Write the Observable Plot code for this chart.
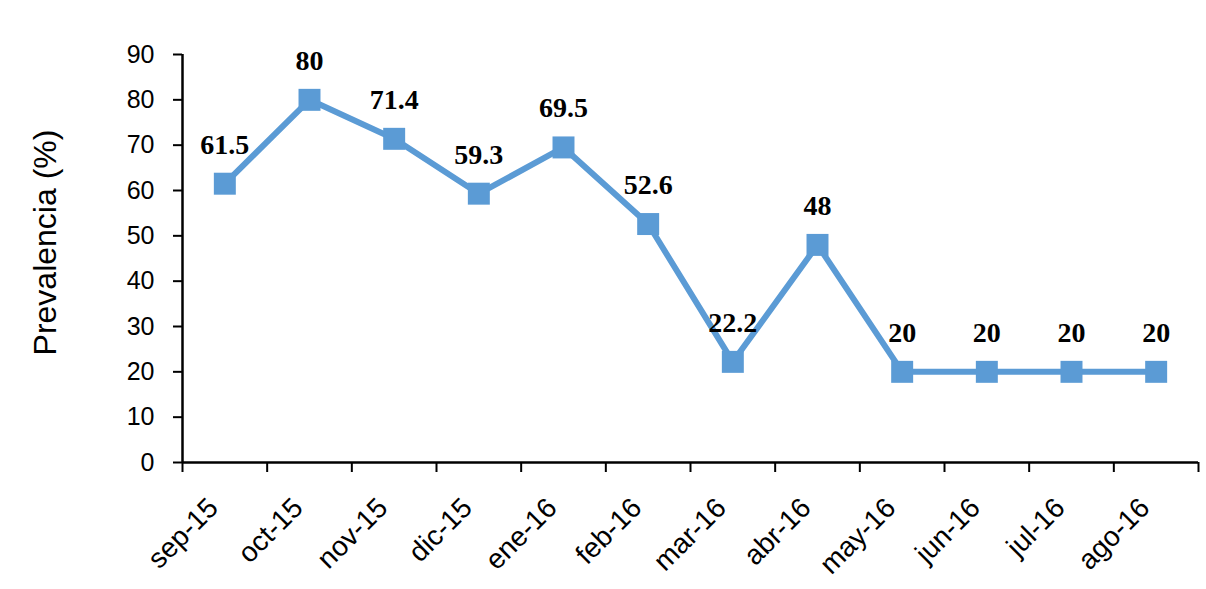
<!DOCTYPE html>
<html>
<head>
<meta charset="utf-8">
<script src="https://cdn.jsdelivr.net/npm/d3@7"></script>
<script src="https://cdn.jsdelivr.net/npm/@observablehq/plot@0.6"></script>
<style>
  html, body { margin: 0; padding: 0; background: #fff; }
  #chart svg { display: block; }
</style>
</head>
<body>
<div id="chart"></div>
<script>
const months = ["sep-15","oct-15","nov-15","dic-15","ene-16","feb-16","mar-16","abr-16","may-16","jun-16","jul-16","ago-16"];
const prevalence = [61.5, 80, 71.4, 59.3, 69.5, 52.6, 22.2, 48, 20, 20, 20, 20];
const labels = ["61.5","80","71.4","59.3","69.5","52.6","22.2","48","20","20","20","20"];
const yTicks = [0,10,20,30,40,50,60,70,80,90];
const yTitle = "Prevalencia (%)";

const data = months.map((m, i) => ({i, m, v: prevalence[i], label: labels[i]}));
const color = "#5B9BD5";

const chart = Plot.plot({
  width: 1206,
  height: 589,
  marginLeft: 182,
  marginRight: 8,
  marginTop: 54,
  marginBottom: 127,
  style: {fontFamily: "'Liberation Sans', Arial, sans-serif", background: "#fff", color: "#000"},
  x: {type: "linear", domain: [-0.5, months.length - 0.5], axis: null},
  y: {domain: [0, 90], axis: null},
  marks: [
    // y-axis tick marks and labels
    Plot.axisY({ticks: yTicks, tickSize: 9, tickFormat: () => "", label: null, strokeWidth: 2}),
    Plot.text(yTicks, {y: d => d, frameAnchor: "left", textAnchor: "end", dx: -28, fontSize: 25, fill: "#000"}),
    // x-axis tick marks at category boundaries
    Plot.axisX({ticks: d3.range(-0.5, months.length, 1), tickSize: 10, tickFormat: () => "", label: null, strokeWidth: 2}),
    // x-axis category labels
    Plot.text(months, {x: (d, i) => i, frameAnchor: "bottom", rotate: -45, textAnchor: "end", dx: -5, dy: 47, fontSize: 28, fill: "#000"}),
    Plot.ruleY([0], {stroke: "#000", strokeWidth: 2.5}),
    Plot.ruleX([-0.5], {stroke: "#000", strokeWidth: 2.5}),
    Plot.text([yTitle], {frameAnchor: "left", rotate: -90, textAnchor: "middle", dx: -137, dy: -16, fontSize: 32, fill: "#000"}),
    Plot.line(data, {x: "i", y: "v", stroke: color, strokeWidth: 6}),
    Plot.dot(data, {x: "i", y: "v", symbol: "square", r: 12.4, fill: color, stroke: "none"}),
    Plot.text(data, {x: "i", y: "v", text: "label", dy: -39, fontSize: 28, fontWeight: "bold",
      fontFamily: "'Liberation Serif', 'Times New Roman', serif", fill: "#000"})
  ]
});
document.getElementById("chart").appendChild(chart);
</script>
</body>
</html>
